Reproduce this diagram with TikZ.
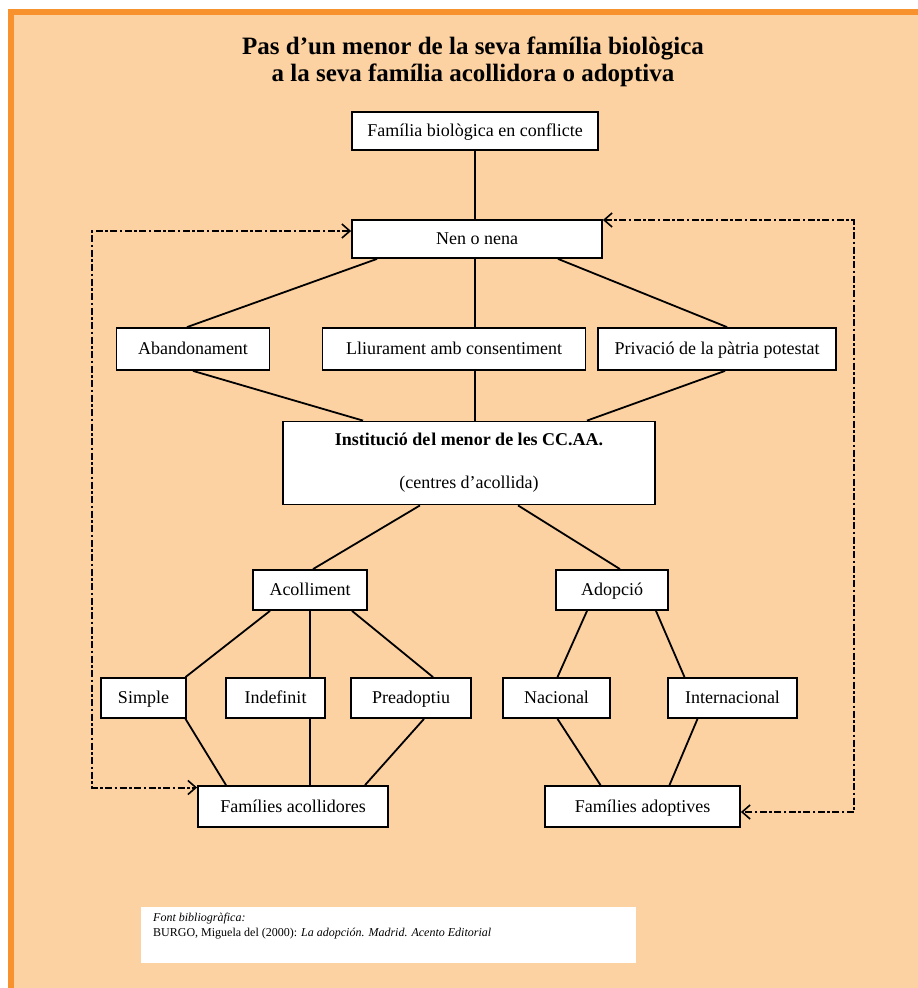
\documentclass[tikz,border=0pt]{standalone}
\usepackage{fontspec}
\setmainfont{Liberation Serif}
\usetikzlibrary{arrows.meta}
\definecolor{bgfill}{HTML}{FDD2A2}
\definecolor{frameor}{HTML}{F7922E}
\tikzset{
  box/.style={draw=black, fill=white, line width=1.8pt, inner sep=0pt, align=center,
    font=\fontsize{18}{21}\selectfont, text height=15pt, text depth=4pt},
  link/.style={line width=1.8pt, black},
  dashlink/.style={line width=2pt, black, dash pattern=on 7pt off 2.5pt on 2.5pt off 2.5pt,
    {Straight Barb[length=8pt,width=14pt,line width=1.6pt]}-{Straight Barb[length=8pt,width=14pt,line width=1.6pt]}},
}
\begin{document}
\begin{tikzpicture}[x=1pt,y=-1pt]
\useasboundingbox (0,0) rectangle (918,988);
\fill[white] (0,0) rectangle (918,988);
\fill[frameor] (8,9) rectangle (918,988);
\fill[bgfill] (14,15) rectangle (918,988);

\node[font=\fontsize{25}{27}\selectfont\bfseries, align=center] (title) at (473,62)
  {Pas d’un menor de la seva família biològica\\a la seva família acollidora o adoptiva};

\node[box, minimum width=246pt, minimum height=38pt] (bio) at (475,131) {Família biològica en conflicte};
\node[box, minimum width=250pt, minimum height=38pt] (nen) at (477,239) {Nen o nena};
\node[box, minimum width=153pt, minimum height=42pt] (aband) at (193,349) {Abandonament};
\node[box, minimum width=263pt, minimum height=42pt] (lliur) at (454,349) {Lliurament amb consentiment};
\node[box, minimum width=238pt, minimum height=42pt] (priv) at (717,349) {Privació de la pàtria potestat};
\node[box, minimum width=372pt, minimum height=83pt, text height=, text depth=] (inst) at (469,463)
  {\textbf{Institució de\kern1pt l menor de les CC.AA.}\\[22pt](centres d’acollida)};
\node[box, minimum width=114pt, minimum height=40pt] (acoll) at (310,590) {Acolliment};
\node[box, minimum width=112pt, minimum height=40pt] (adop) at (612,590) {Adopció};
\node[box, minimum width=85pt, minimum height=40pt] (simple) at (143.5,698) {Simple};
\node[box, minimum width=99pt, minimum height=40pt] (indef) at (275.5,698) {Indefinit};
\node[box, minimum width=120pt, minimum height=40pt] (pread) at (411,698) {Preadoptiu};
\node[box, minimum width=107pt, minimum height=40pt] (nac) at (556.5,698) {Nacional};
\node[box, minimum width=129pt, minimum height=40pt] (inter) at (732.5,698) {Internacional};
\node[box, minimum width=190pt, minimum height=41pt] (facoll) at (293,806.5) {Famílies acollidores};
\node[box, minimum width=195pt, minimum height=41pt] (fadop) at (642.5,806.5) {Famílies adoptives};

% solid connectors
\draw[link] (bio.south) -- ([xshift=-2pt]nen.north);
\draw[link] ([xshift=-100pt]nen.south) -- ([xshift=-6pt]aband.north);
\draw[link] ([xshift=-2pt]nen.south) -- ([xshift=21pt]lliur.north);
\draw[link] ([xshift=81pt]nen.south) -- ([xshift=10pt]priv.north);
\draw[link] (aband.south) -- ([xshift=-106pt]inst.north);
\draw[link] ([xshift=21pt]lliur.south) -- ([xshift=6pt]inst.north);
\draw[link] ([xshift=8pt]priv.south) -- ([xshift=118pt]inst.north);
\draw[link] ([xshift=-49pt]inst.south) -- ([xshift=3pt]acoll.north);
\draw[link] ([xshift=49pt]inst.south) -- ([xshift=8pt]adop.north);
\draw[link] ([xshift=-40pt]acoll.south) -- ([xshift=42pt]simple.north);
\draw[link] (acoll.south) -- ([xshift=34.5pt]indef.north);
\draw[link] ([xshift=42pt]acoll.south) -- ([xshift=22pt]pread.north);
\draw[link] ([xshift=-25pt]adop.south) -- ([xshift=1pt]nac.north);
\draw[link] ([xshift=44pt]adop.south) -- ([xshift=-48pt]inter.north);
\draw[link] ([xshift=42pt]simple.south) -- ([xshift=-67pt]facoll.north);
\draw[link] ([xshift=34.5pt]indef.south) -- ([xshift=17pt]facoll.north);
\draw[link] ([xshift=13pt]pread.south) -- ([xshift=72pt]facoll.north);
\draw[link] ([xshift=1pt]nac.south) -- ([xshift=-42pt]fadop.north);
\draw[link] ([xshift=-35pt]inter.south) -- ([xshift=27pt]fadop.north);

% dashed return connectors
\draw[dashlink] ([yshift=8pt]nen.west) -- ++(-259,0) |- ([yshift=19pt]facoll.west);
\draw[dashlink] ([yshift=19pt]nen.east) -- ++(251,0) |- ([yshift=-5.5pt]fadop.east);

% bibliography box
\fill[white] (141,907) rectangle (636,963);
\node[anchor=north west, inner sep=0pt, align=left, font=\fontsize{12}{14.5}\selectfont] (bib) at (153,913)
  {\textit{Font bibliogràfica:}\\BURGO, Miguela del (2000): \textit{La adopción. Madrid. Acento Editorial}};
\end{tikzpicture}
\end{document}
